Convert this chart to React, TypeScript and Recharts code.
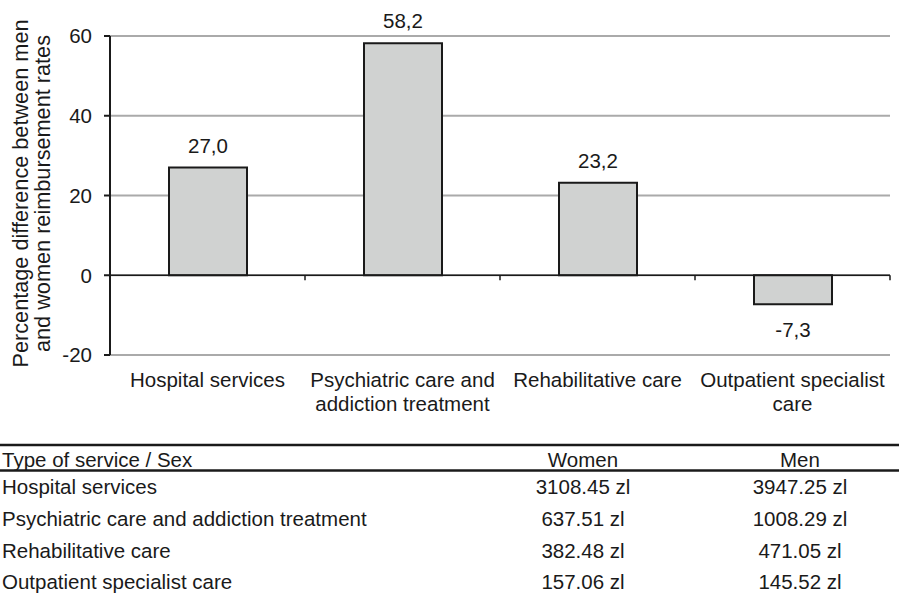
import { BarChart, Bar, XAxis, YAxis, CartesianGrid, ReferenceLine, LabelList } from 'recharts';

const categories = ['Hospital services', 'Psychiatric care and addiction treatment', 'Rehabilitative care', 'Outpatient specialist care'];
const differences = [27.0, 58.2, 23.2, -7.3];
const yTicks = [-20, 0, 20, 40, 60];

const tableHeader = ['Type of service / Sex', 'Women', 'Men'];
const tableServices = ['Hospital services', 'Psychiatric care and addiction treatment', 'Rehabilitative care', 'Outpatient specialist care'];
const womenRates = ['3108.45 zl', '637.51 zl', '382.48 zl', '157.06 zl'];
const menRates = ['3947.25 zl', '1008.29 zl', '471.05 zl', '145.52 zl'];

const FONT = '"Liberation Sans", Arial, sans-serif';
const FS = 20.5;
const INK = '#1a1a1a';

const data = categories.map((c, i) => ({ category: c, value: differences[i] }));

const fmt = (v: number) => v.toFixed(1).replace('.', ',');

// greedy wrap by character count
const wrap = (s: string, max = 21) => {
  const lines: string[] = [];
  let cur = '';
  s.split(' ').forEach(w => {
    const next = cur ? cur + ' ' + w : w;
    if (next.length > max && cur) {
      lines.push(cur);
      cur = w;
    } else cur = next;
  });
  if (cur) lines.push(cur);
  return lines;
};

const CategoryTick = (props: any) => {
  const { x, y, payload } = props;
  return (
    <text x={x} y={y + 14} textAnchor="middle" fontSize={FS} fontFamily={FONT} fill={INK}>
      {wrap(payload.value).map((l, i) => (
        <tspan key={i} x={x} dy={i === 0 ? 0 : 24}>{l}</tspan>
      ))}
    </text>
  );
};

const ValueLabel = (props: any) => {
  const { x, y, width, height, value } = props;
  const top = Math.min(y, y + height);
  const bottom = Math.max(y, y + height);
  const ty = value >= 0 ? top - 15 : bottom + 33;
  return (
    <text x={x + width / 2} y={ty} textAnchor="middle" fontSize={FS} fontFamily={FONT} fill={INK}>
      {fmt(value)}
    </text>
  );
};

const YLabel = (props: any) => {
  const vb = props.viewBox || {};
  const cy = vb.y + vb.height / 2 - 2;
  return (
    <g fontSize={21.7} fontFamily={FONT} fill={INK}>
      <text x={28} y={cy} textAnchor="middle" transform={`rotate(-90, 28, ${cy})`}>Percentage difference between men</text>
      <text x={50} y={cy} textAnchor="middle" transform={`rotate(-90, 50, ${cy})`}>and women reimbursement rates</text>
    </g>
  );
};

// zero line with category boundary ticks
const ZeroLine = (props: any) => {
  const { x1, x2, y1 } = props;
  const step = (x2 - x1) / categories.length;
  return (
    <g>
      <line x1={x1} x2={x2} y1={y1} y2={y1} stroke={INK} strokeWidth={1.5} />
      {categories.map((_, i) => (
        <line key={i} x1={x1 + step * (i + 1)} x2={x1 + step * (i + 1)} y1={y1} y2={y1 + 5} stroke={INK} strokeWidth={1.5} />
      ))}
    </g>
  );
};

const rowBaselines = [494, 526, 558, 589];

export default function App() {
  return (
    <div style={{ position: 'absolute', left: 0, top: 0, width: 899, height: 593, background: '#fff' }}>
      <BarChart width={899} height={430} data={data} margin={{ top: 36, right: 9, left: 50, bottom: 15 }}>
        <CartesianGrid vertical={false} stroke="#aaaaaa" strokeWidth={2} />
        <XAxis dataKey="category" axisLine={false} tickLine={false} tickSize={0} tickMargin={18} height={60}
          interval={0} tick={<CategoryTick />} />
        <YAxis domain={[-20, 60]} ticks={yTicks} width={60} axisLine={{ stroke: INK, strokeWidth: 2 }}
          tickLine={{ stroke: INK, strokeWidth: 2 }} tickSize={6} tickMargin={12}
          tick={{ fontSize: FS, fontFamily: FONT, fill: INK }} label={<YLabel />} />
        <Bar dataKey="value" fill="#d0d2d1" stroke={INK} strokeWidth={2} barSize={78} isAnimationActive={false}>
          <LabelList dataKey="value" content={<ValueLabel />} />
        </Bar>
        <ReferenceLine y={0} shape={<ZeroLine />} />
      </BarChart>
      <svg width={899} height={163} style={{ position: 'absolute', left: 0, top: 430 }}>
        <g fontSize={FS} fontFamily={FONT} fill={INK}>
          <line x1={0} x2={899} y1={15} y2={15} stroke={INK} strokeWidth={2.5} />
          <line x1={0} x2={899} y1={40.5} y2={40.5} stroke={INK} strokeWidth={2.5} />
          <text x={2} y={37}>{tableHeader[0]}</text>
          <text x={583} y={37} textAnchor="middle">{tableHeader[1]}</text>
          <text x={800} y={37} textAnchor="middle">{tableHeader[2]}</text>
          {tableServices.map((s, i) => (
            <g key={s}>
              <text x={2} y={rowBaselines[i] - 430}>{s}</text>
              <text x={583} y={rowBaselines[i] - 430} textAnchor="middle">{womenRates[i]}</text>
              <text x={800} y={rowBaselines[i] - 430} textAnchor="middle">{menRates[i]}</text>
            </g>
          ))}
        </g>
      </svg>
    </div>
  );
}
